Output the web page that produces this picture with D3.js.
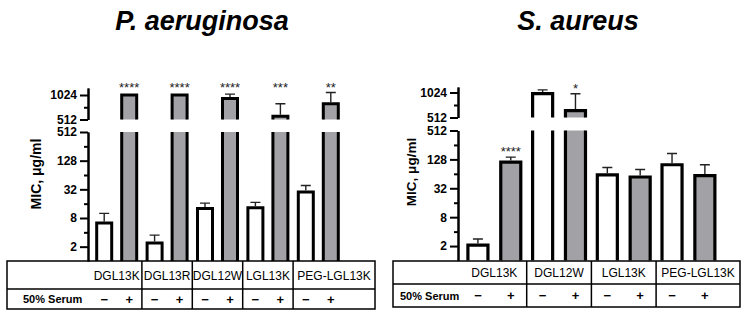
<!DOCTYPE html>
<html>
<head>
<meta charset="utf-8">
<script src="https://cdn.jsdelivr.net/npm/d3@7"></script>
<style>
  html, body { margin: 0; padding: 0; background: #fff; }
  svg { display: block; font-family: "Liberation Sans", Arial, sans-serif; }
</style>
</head>
<body>
<svg id="chart" width="747" height="318"></svg>
<script>
// ---------------- DATA ----------------
const paCategories = ["DGL13K", "DGL13R", "DGL12W", "LGL13K", "PEG-LGL13K"];
const paNoSerum    = [6.3, 2.4, 12.6, 13.2, 28];
const paNoSerumErr = [10, 3.5, 16.4, 17, 38.6];     // upper end of error bar
const paSerum      = [1024, 1024, 930, 560, 800];
const paSerumErr   = [1024, 1024, 1050, 800, 1100];
const paStars      = ["****", "****", "****", "***", "**"];

const saCategories = ["DGL13K", "DGL12W", "LGL13K", "PEG-LGL13K"];
const saNoSerum    = [2.1, 990, 61, 99];
const saNoSerumErr = [2.8, 1100, 87, 170];
const saSerum      = [112, 621, 55, 59];
const saSerumErr   = [143, 990, 79, 99];
const saStars      = ["****", "*", "", ""];

const serumConditions = ["−", "+"];
const serumRowLabel = "50% Serum";
const yAxisLabel = "MIC, μg/ml";
const lowerTicks = [2, 8, 32, 128, 512];
const lowerMinorTicks = [4, 16, 64, 256];
const upperTicks = [512, 1024];
const upperMinorTicks = [724];
const titles = ["P. aeruginosa", "S. aureus"];

// ---------------- LAYOUT ----------------
const svg = d3.select("#chart");
const FONT = "'Liberation Sans', Arial, sans-serif";
const GRAY = "#a2a2a6";

const panels = [
  {
    title: titles[0], titleX: 202, cats: paCategories,
    vals: [paNoSerum, paSerum], errs: [paNoSerumErr, paSerumErr], stars: paStars,
    axisX: 88, bandStart: 91.5, bandW: 50.4, padIn: 0.4, padOut: 0.208,
    lowTop: 132, bottom: 261, upTop: 88, up512: 119.5, up1024: 95,
    labelX: 41, labelY: 174, labelSize: 14,
    tableL: 7, tableR: 375, tableT: 261, tableM: 289, tableB: 309,
    serumX: 23, starRow: 92, barStroke: 3
  },
  {
    title: titles[1], titleX: 578, cats: saCategories,
    vals: [saNoSerum, saSerum], errs: [saNoSerumErr, saSerumErr], stars: saStars,
    axisX: 458, bandStart: 462, bandW: 64.7, padIn: 0.39, padOut: 0.18,
    lowTop: 130.5, bottom: 260.5, upTop: 87, up512: 117.5, up1024: 92.5,
    labelX: 416, labelY: 172, labelSize: 13.5,
    tableL: 393, tableR: 740, tableT: 261, tableM: 284, tableB: 307,
    serumX: 400, starRow: null, barStroke: 3.2
  }
];

panels.forEach(p => {
  const g = svg.append("g");

  // Title
  g.append("text")
    .attr("x", p.titleX).attr("y", 30)
    .attr("text-anchor", "middle")
    .style("font-family", FONT).style("font-size", "27px")
    .style("font-weight", "bold").style("font-style", "italic")
    .text(p.title);

  // Scales
  const yLow = d3.scaleLog().base(2).domain([1, 512]).range([p.bottom, p.lowTop]);
  const yUp = d3.scaleLog().base(2).domain([512, 1024]).range([p.up512, p.up1024]);
  const upTopVal = yUp.invert(p.upTop);

  const x = d3.scaleBand().domain(p.cats)
    .range([p.bandStart, p.bandStart + p.cats.length * p.bandW])
    .paddingInner(0).paddingOuter(0);
  const xi = d3.scaleBand().domain(serumConditions)
    .range([0, p.bandW]).paddingInner(p.padIn).paddingOuter(p.padOut);
  const bw = xi.bandwidth();

  // Bars
  const bars = [];
  p.cats.forEach((c, i) => {
    serumConditions.forEach((s, k) => {
      bars.push({cat: c, cond: s, k, v: p.vals[k][i], e: p.errs[k][i], star: k === 1 ? p.stars[i] : ""});
    });
  });

  const yVal = v => v > 512 ? yUp(v) : yLow(v);

  const barG = g.append("g");
  bars.forEach(b => {
    const x0 = x(b.cat) + xi(b.cond);
    const x1 = x0 + bw;
    const fill = b.k === 1 ? GRAY : "#fff";
    if (b.v <= 512) {
      const yt = yLow(b.v);
      barG.append("path")
        .attr("d", `M${x0},${p.bottom}V${yt}H${x1}V${p.bottom}`)
        .attr("fill", fill).attr("stroke", "#000").attr("stroke-width", p.barStroke)
        .attr("stroke-linejoin", "miter");
    } else {
      // lower segment (open top)
      barG.append("rect").attr("x", x0).attr("y", yLow(512)).attr("width", bw)
        .attr("height", p.bottom - yLow(512)).attr("fill", fill);
      barG.append("path")
        .attr("d", `M${x0},${p.bottom}V${yLow(512)}M${x1},${yLow(512)}V${p.bottom}`)
        .attr("fill", "none").attr("stroke", "#000").attr("stroke-width", p.barStroke);
      // upper segment (open bottom)
      barG.append("rect").attr("x", x0).attr("y", yUp(b.v)).attr("width", bw)
        .attr("height", yUp(512) - yUp(b.v)).attr("fill", fill);
      barG.append("path")
        .attr("d", `M${x0},${yUp(512)}V${yUp(b.v)}H${x1}V${yUp(512)}`)
        .attr("fill", "none").attr("stroke", "#000").attr("stroke-width", p.barStroke)
        .attr("stroke-linejoin", "miter");
    }
    // Error bar (upper only)
    const cx = x0 + bw / 2;
    if (b.e > b.v) {
      const y0 = yVal(b.v) - p.barStroke / 2;
      const y1 = yVal(b.e);
      barG.append("path")
        .attr("d", `M${cx},${y0}V${y1}M${cx - 5},${y1}H${cx + 5}`)
        .attr("fill", "none").attr("stroke", "#222").attr("stroke-width", 1.4);
    }
    // Stars
    if (b.star) {
      const sy = p.starRow !== null ? p.starRow : yVal(b.e) - 1;
      barG.append("text")
        .attr("x", cx).attr("y", sy)
        .attr("text-anchor", "middle")
        .style("font-family", FONT).style("font-size", "13px")
        .style("fill", "#222")
        .text(b.star);
    }
  });

  // Axes
  const styleAxis = sel => {
    sel.select(".domain").attr("stroke", "#000").attr("stroke-width", 2);
    sel.selectAll(".tick line").attr("stroke", "#000").attr("stroke-width", 2);
    sel.selectAll(".tick text").style("font-family", FONT).style("font-size", "12px")
      .style("font-weight", "bold").attr("fill", "#000");
  };
  const lowAxis = d3.axisLeft(yLow).tickValues(lowerTicks).tickFormat(d3.format("d"))
    .tickSize(8).tickSizeOuter(0).tickPadding(3);
  g.append("g").attr("transform", `translate(${p.axisX},0)`).call(lowAxis).call(styleAxis);
  const lowMinor = d3.axisLeft(yLow).tickValues(lowerMinorTicks).tickFormat("").tickSize(4).tickSizeOuter(0);
  g.append("g").attr("transform", `translate(${p.axisX},0)`).call(lowMinor).call(styleAxis);

  const yUpAxis = yUp.copy().domain([512, upTopVal]).range([p.up512, p.upTop]);
  const upAxis = d3.axisLeft(yUpAxis).tickValues(upperTicks).tickFormat(d3.format("d"))
    .tickSize(8).tickSizeOuter(0).tickPadding(3);
  g.append("g").attr("transform", `translate(${p.axisX},0)`).call(upAxis).call(styleAxis);
  const upMinor = d3.axisLeft(yUpAxis).tickValues(upperMinorTicks).tickFormat("").tickSize(4).tickSizeOuter(0);
  g.append("g").attr("transform", `translate(${p.axisX},0)`).call(upMinor).call(styleAxis);

  // Y label
  g.append("text")
    .attr("transform", `translate(${p.labelX},${p.labelY}) rotate(-90)`)
    .attr("text-anchor", "middle")
    .style("font-family", FONT).style("font-size", p.labelSize + "px").style("font-weight", "bold")
    .text(yAxisLabel);

  // Table
  const tg = g.append("g");
  const line = (x1, y1, x2, y2) => tg.append("line")
    .attr("x1", x1).attr("y1", y1).attr("x2", x2).attr("y2", y2)
    .attr("stroke", "#000").attr("stroke-width", 1.5);
  tg.append("rect").attr("x", p.tableL).attr("y", p.tableT)
    .attr("width", p.tableR - p.tableL).attr("height", p.tableB - p.tableT)
    .attr("fill", "none").attr("stroke", "#000").attr("stroke-width", 1.5);
  line(p.tableL, p.tableM, p.tableR, p.tableM);
  p.cats.forEach((c, i) => {
    if (i > 0) line(x(c), p.tableT, x(c), p.tableB);
    const last = i === p.cats.length - 1;
    const cx = last ? (x(c) + p.tableR) / 2 : x(c) + x.bandwidth() / 2;
    tg.append("text")
      .attr("x", cx).attr("y", (p.tableT + p.tableM) / 2 + 4.5)
      .attr("text-anchor", "middle")
      .style("font-family", FONT).style("font-size", "12px")
      .text(c);
    serumConditions.forEach(s => {
      tg.append("text")
        .attr("x", x(c) + xi(s) + bw / 2).attr("y", (p.tableM + p.tableB) / 2 + 4.5)
        .attr("text-anchor", "middle")
        .style("font-family", FONT).style("font-size", "13px").style("font-weight", "bold")
        .text(s);
    });
  });
  tg.append("text")
    .attr("x", p.serumX).attr("y", (p.tableM + p.tableB) / 2 + 4)
    .style("font-family", FONT).style("font-size", "11px").style("font-weight", "bold")
    .text(serumRowLabel);
});
</script>
</body>
</html>
